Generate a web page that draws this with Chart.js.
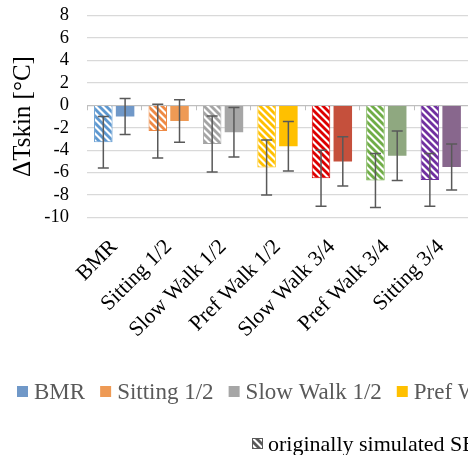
<!DOCTYPE html>
<html>
<head>
<meta charset="utf-8">
<script src="https://cdn.jsdelivr.net/npm/chart.js@4/dist/chart.umd.min.js"></script>
<style>
  html, body { margin: 0; padding: 0; background: #fff; overflow: hidden; }
  #wrap { width: 468px; height: 455px; position: relative; }
</style>
</head>
<body>
<div id="wrap"><canvas id="chart"></canvas></div>
<script>
// --- data ---
const categories = ['BMR', 'Sitting 1/2', 'Slow Walk 1/2', 'Pref Walk 1/2', 'Slow Walk 3/4', 'Pref Walk 3/4', 'Sitting 3/4'];
const simulated    = [-3.3, -2.3, -3.45, -5.55, -6.5, -6.7, -6.65];
const simulatedErr = [2.3, 2.4, 2.5, 2.45, 2.5, 2.4, 2.35];
const measured     = [-1.0, -1.4, -2.4, -3.65, -5.0, -4.5, -5.5];
const measuredErr  = [1.6, 1.9, 2.2, 2.2, 2.2, 2.2, 2.05];
const yTicks = [-10, -8, -6, -4, -2, 0, 2, 4, 6, 8];
const simLabel = 'originally simulated SB';
const yTitle = 'ΔTskin [°C]';

const simColors  = ['#5E98D0', '#EE8A45', '#A5A5A5', '#FFC000', '#DD0000', '#70AD47', '#7030A0'];
const measColors = ['#7098C8', '#EE9A55', '#A6A6A6', '#FFC000', '#C5503C', '#8FA880', '#88678D'];

const FONT = "'Liberation Serif', 'Times New Roman', serif";

// diagonal hatch like the "\" stripes in the figure
function makeHatch(color) {
    const s = 7;
    const c = document.createElement('canvas');
    c.width = s; c.height = s;
    const g = c.getContext('2d');
    g.fillStyle = '#fff';
    g.fillRect(0, 0, s, s);
    g.strokeStyle = color;
    g.lineWidth = 2.8;
    for (let k = -1; k <= 1; k++) {
        g.beginPath();
        g.moveTo(k * s - 1, -1);
        g.lineTo(k * s + s + 1, s + 1);
        g.stroke();
    }
    return g.createPattern(c, 'repeat');
}

const errors = [simulatedErr, measuredErr];

// error bars drawn from the bar elements
const errorBars = {
    id: 'errorBars',
    afterDatasetsDraw(chart) {
        const ctx = chart.ctx;
        const y = chart.scales.y;
        ctx.save();
        ctx.strokeStyle = '#595959';
        ctx.lineWidth = 1.5;
        chart.data.datasets.forEach((ds, i) => {
            chart.getDatasetMeta(i).data.forEach((bar, j) => {
                const v = ds.data[j], e = errors[i][j];
                const top = y.getPixelForValue(v + e);
                const bot = y.getPixelForValue(v - e);
                ctx.beginPath();
                ctx.moveTo(bar.x, top); ctx.lineTo(bar.x, bot);
                ctx.moveTo(bar.x - 5.5, top); ctx.lineTo(bar.x + 5.5, top);
                ctx.moveTo(bar.x - 5.5, bot); ctx.lineTo(bar.x + 5.5, bot);
                ctx.stroke();
            });
        });
        ctx.restore();
    }
};

// category tick marks on the zero line
const zeroTicks = {
    id: 'zeroTicks',
    afterDatasetsDraw(chart) {
        const ctx = chart.ctx;
        const x = chart.scales.x, y = chart.scales.y;
        const y0 = y.getPixelForValue(0);
        const half = (x.getPixelForValue(1) - x.getPixelForValue(0)) / 2;
        ctx.save();
        ctx.strokeStyle = '#BFBFBF';
        ctx.lineWidth = 1;
        for (let i = 0; i <= categories.length; i++) {
            const px = Math.round(x.getPixelForValue(i) - half) + 0.5;
            ctx.beginPath();
            ctx.moveTo(px, y0);
            ctx.lineTo(px, y0 + 5);
            ctx.stroke();
        }
        ctx.restore();
    }
};

// legend (runs off the right edge like the original)
const bottomLegend = {
    id: 'bottomLegend',
    afterDraw(chart) {
        const ctx = chart.ctx;
        ctx.save();
        ctx.font = '23px ' + FONT;
        ctx.textBaseline = 'alphabetic';
        let px = 17;
        categories.slice(0, 4).forEach((name, i) => {
            ctx.fillStyle = measColors[i];
            ctx.fillRect(px, 386, 11, 11);
            ctx.fillStyle = '#595959';
            ctx.fillText(name, px + 17, 399);
            px += 17 + ctx.measureText(name).width + 15;
        });
        ctx.fillStyle = makeHatch('#595959');
        ctx.fillRect(252, 438, 11, 11);
        ctx.strokeStyle = '#595959';
        ctx.lineWidth = 1;
        ctx.strokeRect(252.5, 438.5, 10, 10);
        ctx.font = '22px ' + FONT;
        ctx.fillStyle = '#000';
        ctx.fillText(simLabel, 268, 451);
        ctx.restore();
    }
};

const ctx = document.getElementById('chart').getContext('2d');
new Chart(ctx, {
    type: 'bar',
    data: {
        labels: categories,
        datasets: [
            {
                label: simLabel,
                data: simulated,
                backgroundColor: simColors.map(makeHatch),
                borderColor: simColors,
                borderWidth: 1,
                categoryPercentage: 0.8,
                barPercentage: 0.85
            },
            {
                label: 'measured',
                data: measured,
                backgroundColor: measColors,
                borderWidth: 0,
                categoryPercentage: 0.8,
                barPercentage: 0.85
            }
        ]
    },
    options: {
        responsive: true,
        maintainAspectRatio: false,
        animation: false,
        layout: { padding: { top: 15.5, right: -3, bottom: 0, left: 0 } },
        plugins: {
            legend: { display: false },
            tooltip: { enabled: false }
        },
        scales: {
            x: {
                grid: { display: false },
                border: { display: false },
                ticks: {
                    autoSkip: false,
                    maxRotation: 45,
                    minRotation: 45,
                    padding: 9,
                    color: '#000',
                    font: { family: FONT, size: 21.5 }
                },
                afterFit(scale) { scale.height = 237.5; }
            },
            y: {
                min: -10,
                max: 8,
                afterBuildTicks(scale) { scale.ticks = yTicks.map(v => ({ value: v })); },
                grid: {
                    drawTicks: false,
                    color: c => c.tick && c.tick.value === 0 ? '#BFBFBF' : '#D9D9D9',
                    lineWidth: 1.3
                },
                border: { display: false },
                ticks: {
                    autoSkip: false,
                    padding: 18,
                    color: '#000',
                    font: { family: FONT, size: 18.5 }
                },
                title: {
                    display: true,
                    text: yTitle,
                    color: '#000',
                    font: { family: FONT, size: 25 },
                    padding: { top: 8, bottom: 0 }
                },
                afterFit(scale) {
                    scale.width = 87;
                    scale.paddingTop = 0;
                    scale.paddingBottom = 0;
                }
            }
        }
    },
    plugins: [errorBars, zeroTicks, bottomLegend]
});
</script>
</body>
</html>
